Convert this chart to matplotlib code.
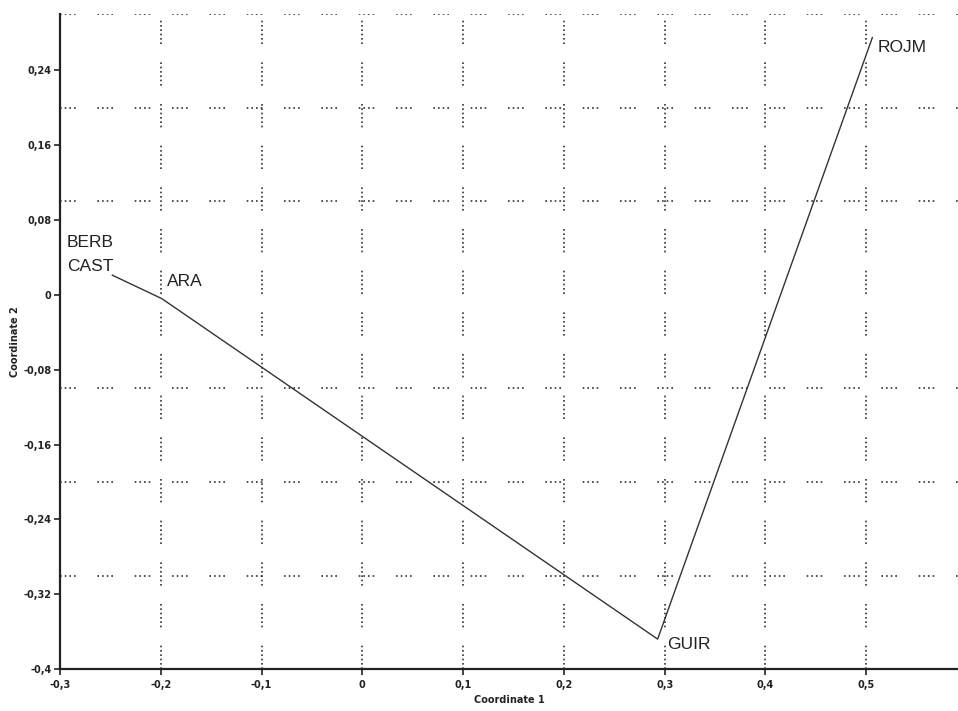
import matplotlib
matplotlib.use("Agg")
import matplotlib.pyplot as plt
from matplotlib.ticker import MultipleLocator, FuncFormatter

# ordination coordinates
names = ["BERB", "CAST", "ARA", "GUIR", "ROJM"]
coord1 = [-0.248, -0.248, -0.199, 0.293, 0.506]
coord2 = [0.021, 0.021, -0.004, -0.368, 0.275]
# label offsets (points) and alignment
offsets = [(1, 18), (1, 1), (4, 7), (7, -4), (4, -7)]
aligns = [("right", "bottom"), ("right", "bottom"), ("left", "bottom"),
          ("left", "center"), ("left", "center")]
# path that links the points (minimum spanning tree)
path = ["CAST", "ARA", "GUIR", "ROJM"]

fig = plt.figure(figsize=(9.58, 7.11), dpi=100)
ax = fig.add_axes([0.0626, 0.059, 0.9374, 0.921])

ax.set_xlim(-0.3, 0.591)
ax.set_ylim(-0.4, 0.30)

ax.xaxis.set_major_locator(MultipleLocator(0.1))
ax.yaxis.set_major_locator(MultipleLocator(0.08))
ax.yaxis.set_minor_locator(MultipleLocator(0.1))

fmt = FuncFormatter(lambda v, p: ("%g" % (round(v, 2) + 0.0)).replace(".", ","))
ax.xaxis.set_major_formatter(fmt)
ax.yaxis.set_major_formatter(fmt)

ax.tick_params(which="major", length=4, width=1.2, color="#222222",
               labelsize=7, pad=2, labelcolor="#222222")
ax.tick_params(axis="x", which="major", pad=4)
ax.tick_params(which="minor", length=0)
for lab in ax.get_xticklabels() + ax.get_yticklabels():
    lab.set_fontweight("bold")

for s in ["top", "right"]:
    ax.spines[s].set_visible(False)
for s in ["left", "bottom"]:
    ax.spines[s].set_linewidth(1.6)
    ax.spines[s].set_color("#222222")

# dotted grid in short bursts
ax.xaxis.grid(True, which="major", color="#333333", linewidth=1.2,
              linestyle=(0, (1, 1.6, 1, 1.6, 1, 1.6, 1, 1.6, 1, 1.6, 1, 11)))
ax.yaxis.grid(True, which="minor", color="#333333", linewidth=1.2,
              linestyle=(0, (1, 1.8, 1, 1.8, 1, 1.8, 1, 13)))
ax.set_axisbelow(True)

px = [coord1[names.index(n)] for n in path]
py = [coord2[names.index(n)] for n in path]
ax.plot(px, py, color="#333333", linewidth=1.0, zorder=3)

for n, x, y, off, (ha, va) in zip(names, coord1, coord2, offsets, aligns):
    ax.annotate(n, (x, y), xytext=off, textcoords="offset points",
                ha=ha, va=va, fontsize=12.5, color="#222222",
                family="Liberation Sans", zorder=4)

ax.set_xlabel("Coordinate 1", fontsize=7, fontweight="bold", color="#222222")
ax.xaxis.set_label_coords(0.5, -0.04)
ax.set_ylabel("Coordinate 2", fontsize=7, fontweight="bold", color="#222222")
ax.yaxis.set_label_coords(-0.045, 0.5)

fig.savefig("out.png", dpi=100)
